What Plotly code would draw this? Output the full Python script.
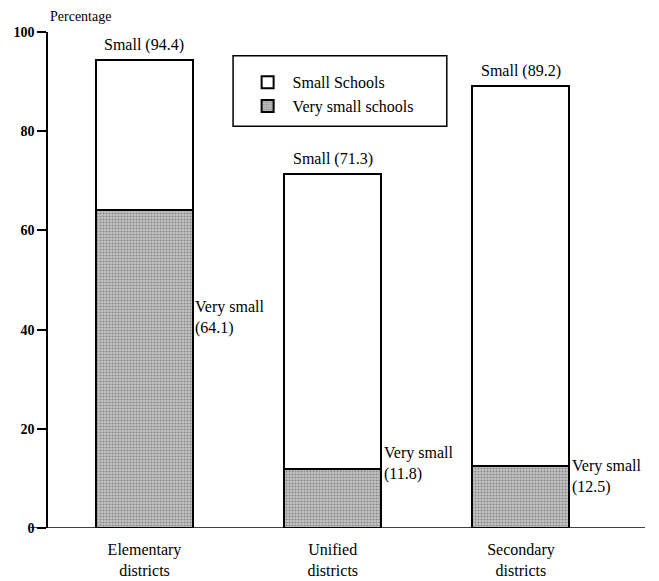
import plotly.graph_objects as go

categories = ["Elementary<br>districts", "Unified<br>districts", "Secondary<br>districts"]
small_total = [94.4, 71.3, 89.2]
very_small = [64.1, 11.8, 12.5]
small_labels = ["Small (94.4)", "Small (71.3)", "Small (89.2)"]
very_small_labels = ["Very small<br>(64.1)", "Very small<br>(11.8)", "Very small<br>(12.5)"]
very_small_label_y = [42.5, 13.0, 10.3]
y_ticks = [0, 20, 40, 60, 80, 100]

upper = [t - v for t, v in zip(small_total, very_small)]

FONT = "Liberation Serif"

fig = go.Figure()
fig.add_trace(go.Bar(
    x=categories, y=very_small, name="Very small schools",
    width=0.515,
    marker=dict(color="#b0b0b0",
                line=dict(color="black", width=2),
                pattern=dict(shape=".", fgcolor="#505050", bgcolor="#c4c4c4", size=3, solidity=0.4)),
))
fig.add_trace(go.Bar(
    x=categories, y=upper, name="Small Schools",
    width=0.515,
    marker=dict(color="white", line=dict(color="black", width=2)),
))

annotations = []
for c, t, lab in zip(categories, small_total, small_labels):
    annotations.append(dict(x=c, y=t, text=lab, showarrow=False, yanchor="bottom",
                            yshift=4, font=dict(family=FONT, size=16, color="black")))
for c, ly, lab in zip(categories, very_small_label_y, very_small_labels):
    annotations.append(dict(x=c, y=ly, text=lab, showarrow=False, xanchor="left",
                            align="left", xshift=49, yanchor="middle",
                            font=dict(family=FONT, size=16, color="black")))
annotations.append(dict(x=0.0, y=1.0, xref="paper", yref="paper", text="Percentage",
                        showarrow=False, xanchor="left", yanchor="bottom", yshift=6,
                        font=dict(family=FONT, size=14, color="black")))

fig.update_layout(
    width=651, height=573,
    margin=dict(l=40, r=14, t=24, b=53, autoexpand=False),
    paper_bgcolor="white", plot_bgcolor="white",
    barmode="stack",
    showlegend=True,
    legend=dict(x=0.326, y=0.933, xanchor="left", yanchor="top",
                traceorder="reversed", borderwidth=0,
                bgcolor="rgba(0,0,0,0)", font=dict(family=FONT, size=16, color="black"),
                itemwidth=40, tracegroupgap=2),
    annotations=annotations,
    shapes=[
        dict(type="line", xref="paper", yref="y", x0=-0.03, x1=1.0, y0=0, y1=0,
             line=dict(color="black", width=1.5)),
        dict(type="rect", xref="paper", yref="paper", x0=0.31, x1=0.668, y0=0.810, y1=0.952,
             line=dict(color="black", width=1.5), fillcolor="rgba(0,0,0,0)", layer="above"),
    ],
    font=dict(family=FONT, color="black"),
)
fig.update_xaxes(range=[-0.5126, 2.659], showline=False, ticks="", showgrid=False,
                 ticklabelstandoff=10, automargin=False,
                 tickfont=dict(family=FONT, size=16, color="black"))
fig.update_yaxes(range=[0, 100], tickvals=y_ticks, showline=True, linecolor="black", linewidth=1.5,
                 ticks="outside", ticklen=9, tickcolor="black", tickwidth=1.5, showgrid=False,
                 zeroline=False, automargin=False,
                 tickfont=dict(family=FONT, size=14, color="black", weight="bold"))

fig.write_html("out.html")
